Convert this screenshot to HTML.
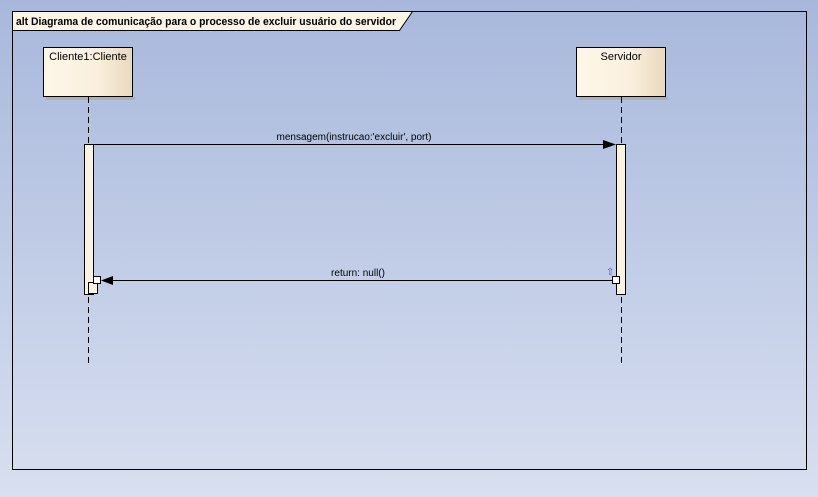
<!DOCTYPE html>
<html><head><style>body{margin:0}svg{display:block;font-family:"Liberation Sans",sans-serif}</style></head><body>
<svg width="818" height="497" xmlns="http://www.w3.org/2000/svg">
<defs>
<linearGradient id="bg" x1="0" y1="0" x2="0" y2="1"><stop offset="0" stop-color="#a8b8dc"/><stop offset="1" stop-color="#d8dff0"/></linearGradient>
<linearGradient id="bx" x1="0" y1="0" x2="1" y2="0"><stop offset="0" stop-color="#fdf6e8"/><stop offset="0.6" stop-color="#fbf0de"/><stop offset="1" stop-color="#ead8bd"/></linearGradient>
</defs>
<rect width="818" height="497" fill="url(#bg)"/>
<rect x="12.5" y="11.5" width="794" height="458" fill="none" stroke="#000"/>
<path d="M12.5 11.5 H412.5 L399.5 30.5 H12.5 Z" fill="#fcf4e6" stroke="#000"/>
<text x="16" y="25" font-size="11" font-weight="bold" textLength="380" lengthAdjust="spacingAndGlyphs">alt Diagrama de comunicação para o processo de excluir usuário do servidor</text>
<rect x="46" y="97" width="89" height="3" fill="#b0b0b0"/>
<rect x="43.5" y="47.5" width="89" height="49" fill="url(#bx)" stroke="#000"/>
<text x="88" y="60" font-size="11" text-anchor="middle">Cliente1:Cliente</text>
<rect x="579" y="97" width="89" height="3" fill="#b0b0b0"/>
<rect x="576.5" y="47.5" width="89" height="49" fill="url(#bx)" stroke="#000"/>
<text x="621" y="60" font-size="11" text-anchor="middle">Servidor</text>
<line x1="88.5" y1="97" x2="88.5" y2="367" stroke="#000" stroke-dasharray="6,4"/>
<line x1="621.5" y1="97" x2="621.5" y2="367" stroke="#000" stroke-dasharray="6,4"/>
<rect x="84.5" y="144.5" width="9" height="150" fill="#fcf2e2" stroke="#000"/>
<rect x="616.5" y="144.5" width="9" height="150" fill="#fcf2e2" stroke="#000"/>
<rect x="88.5" y="282.5" width="9" height="11" fill="#fcf2e2" stroke="#000"/>
<line x1="93" y1="144.5" x2="604" y2="144.5" stroke="#000"/>
<path d="M603 140 L616 144.5 L603 149 Z" fill="#000"/>
<text x="354" y="140" font-size="10" text-anchor="middle">mensagem(instrucao:'excluir', port)</text>
<line x1="112" y1="280.5" x2="612" y2="280.5" stroke="#000"/>
<path d="M113 276 L101 280.5 L113 285 Z" fill="#000"/>
<rect x="93.5" y="276.5" width="7" height="7" fill="#fff" stroke="#000"/>
<rect x="612.5" y="276.5" width="7" height="7" fill="#fff" stroke="#000"/>
<text x="358" y="276" font-size="10" text-anchor="middle">return: null()</text>
<text x="606" y="275" font-size="10" fill="#5050c0">⇧</text>
</svg>
</body></html>
